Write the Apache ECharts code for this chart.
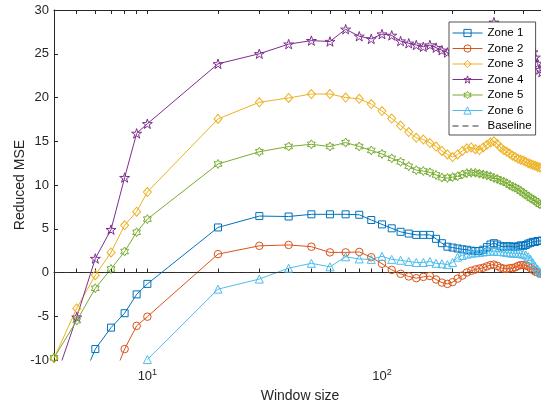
<!DOCTYPE html>
<html><head><meta charset="utf-8">
<script src="https://cdn.jsdelivr.net/npm/echarts@6/dist/echarts.min.js"></script>
<style>html,body{margin:0;padding:0;background:#fff}#c{width:541px;height:410px}</style>
</head><body><div id="c"></div>
<script>
// ---- data ----
const windowSizes = [4,5,6,7,8,9,10,20,30,40,50,60,70,80,90,100,110,120,130,140,150,160,170,180,190,200,210,220,230,240,250,260,270,280,290,300,310,320,330,340,350,360,370,380,390,400,410,420,430,440,450,460,470,480];
const zone1 = [null,-13.8,-8.75,-6.3,-4.65,-2.5,-1.3,5.15,6.45,6.4,6.65,6.65,6.65,6.6,6.0,5.5,5.05,4.65,4.45,4.3,4.3,4.3,3.85,3.35,2.95,2.85,2.75,2.65,2.6,2.5,2.45,2.45,2.6,2.9,3.2,3.35,3.2,3.0,2.95,3.0,3.0,2.95,2.9,3.0,3.1,3.05,3.15,3.3,3.4,3.5,3.5,3.6,3.6,3.65];
const zone2 = [null,null,null,-12.6,-8.75,-6.1,-5.05,2.1,3.05,3.15,2.95,2.3,2.3,2.35,1.75,1.0,0.3,-0.15,-0.45,-0.65,-0.5,-0.4,-0.8,-1.15,-1.3,-1.1,-0.7,-0.35,0.0,0.2,0.35,0.45,0.55,0.7,0.85,0.9,0.75,0.55,0.45,0.4,0.5,0.5,0.6,0.75,0.85,0.85,0.8,0.7,0.5,0.3,0.1,0.0,-0.1,-0.15];
const zone3 = [-9.8,-4.1,-0.3,2.3,5.4,6.95,9.2,17.55,19.45,19.95,20.4,20.4,20.0,19.85,19.25,18.45,17.6,16.8,16.05,15.4,15.2,14.8,14.4,13.9,13.5,13.2,13.5,13.9,14.2,14.3,14.1,14.0,14.3,14.6,14.85,15.0,14.7,14.3,14.0,13.8,13.6,13.35,13.2,13.0,12.9,12.8,12.65,12.5,12.4,12.3,12.2,12.1,12.0,11.95];
const zone4 = [-12.7,-5.1,1.6,4.9,10.85,15.9,17.0,23.85,25.0,26.1,26.5,26.4,27.8,27.0,26.7,27.25,27.1,26.45,26.2,26.0,25.8,26.0,25.7,25.4,25.15,24.9,24.7,24.6,24.5,24.6,24.9,25.4,26.0,26.8,27.7,28.6,27.9,27.3,26.9,26.6,26.4,26.2,26.0,25.9,25.8,25.7,25.6,25.5,25.4,25.2,24.6,23.9,23.2,22.9];
const zone5 = [-9.75,-5.5,-1.8,0.4,2.4,4.6,6.1,12.4,13.8,14.4,14.65,14.4,14.85,14.4,13.95,13.55,13.05,12.65,12.15,11.7,11.6,11.45,11.15,10.85,10.8,10.9,11.0,11.2,11.35,11.4,11.4,11.3,11.2,11.1,11.0,10.8,10.7,10.5,10.4,10.2,10.0,9.8,9.7,9.5,9.3,9.1,8.9,8.7,8.5,8.35,8.2,8.0,7.8,7.7];
const zone6 = [null,null,null,null,null,null,-9.95,-1.9,-0.75,0.5,1.05,0.65,1.8,1.55,1.5,1.85,1.5,1.4,1.25,1.15,1.15,1.25,1.05,1.0,0.9,1.15,1.75,1.95,2.1,2.2,2.25,2.3,2.35,2.4,2.45,2.45,2.4,2.4,2.35,2.3,2.25,2.2,2.2,2.2,2.15,2.1,2.0,1.8,1.5,1.1,0.7,0.4,0.1,-0.1];
const baselineX = [4, 500];
const baselineY = [0, 0];
const seriesNames = ['Zone 1','Zone 2','Zone 3','Zone 4','Zone 5','Zone 6','Baseline'];
const xTickValues = [5,6,7,8,9,10,20,30,40,50,60,70,80,90,100,200,300,400];
const xLabelValues = [10,100];
const yMin = -10, yMax = 30, yStep = 5;
const xMin = 4, xMax = 500;

// ---- styles ----
function starPath(n, rIn) {
  let d = '';
  for (let k = 0; k < 2*n; k++) {
    const r = (k % 2 === 0) ? 50 : 50*rIn;
    const a = -Math.PI/2 + k*Math.PI/n;
    d += (k === 0 ? 'M' : 'L') + (50 + r*Math.cos(a)).toFixed(2) + ' ' + (50 + r*Math.sin(a)).toFixed(2) + ' ';
  }
  return 'path://' + d + 'Z';
}
const pentagram = starPath(5, 0.382);
const hexagram = starPath(6, 0.577);
const colors = ['#0072BD','#D95319','#EDB120','#7E2F8E','#77AC30','#4DBEEE'];
const symbols = ['rect','circle','diamond',pentagram,hexagram,'triangle'];
const sizes = [7,7.5,[8,9],10,9,8];
const zones = [zone1,zone2,zone3,zone4,zone5,zone6];
const axisColor = '#262626';
const font = 'Liberation Sans, Arial, Helvetica, sans-serif';

const series = zones.map((z, i) => ({
  name: seriesNames[i],
  type: 'line',
  xAxisIndex: 0, yAxisIndex: 0,
  data: windowSizes.map((w, j) => [w, z[j]]).filter(p => p[1] !== null),
  symbol: symbols[i],
  symbolSize: sizes[i],
  symbolKeepAspect: true,
  showAllSymbol: true,
  clip: true,
  lineStyle: { color: colors[i], width: 1 },
  itemStyle: { color: 'rgba(255,255,255,0)', borderColor: colors[i], borderWidth: 1 },
  emphasis: { disabled: true },
  animation: false
}));
series.push({
  name: seriesNames[6],
  type: 'line',
  data: baselineX.map((x, j) => [x, baselineY[j]]),
  symbol: 'circle',
  showSymbol: false,
  lineStyle: { color: '#333', width: 1.2, type: [6, 4] },
  itemStyle: { color: 'rgba(0,0,0,0)', borderColor: 'rgba(0,0,0,0)', borderWidth: 0 },
  emphasis: { disabled: true },
  animation: false
});

const xAxisCommon = {
  type: 'log', logBase: 10, min: xMin, max: xMax,
  axisLine: { show: true, lineStyle: { color: axisColor, width: 1 } },
  axisTick: { show: true, inside: true, length: 4, customValues: xTickValues, lineStyle: { color: axisColor, width: 1 } },
  splitLine: { show: false },
  minorTick: { show: false }
};

const option = {
  backgroundColor: '#fff',
  animation: false,
  textStyle: { fontFamily: font },
  grid: { left: 54, top: 10, width: 492, height: 350, containLabel: false, outerBoundsMode: 'none' },
  xAxis: [
    Object.assign({}, xAxisCommon, {
      position: 'bottom',
      name: 'Window size', nameLocation: 'middle', nameGap: 29, nameMoveOverlap: false,
      nameTextStyle: { fontSize: 14, color: axisColor, fontFamily: font },
      axisLabel: {
        show: true, customValues: xLabelValues, margin: 8, color: axisColor,
        formatter: v => '{b|10}{s|' + Math.round(Math.log10(v)) + '}',
        rich: { b: { fontSize: 13, fontFamily: font, color: axisColor }, s: { fontSize: 9, fontFamily: font, color: axisColor, padding: [0, 0, 8, 0] } }
      }
    }),
    Object.assign({}, xAxisCommon, { position: 'top', axisLabel: { show: false } })
  ],
  yAxis: {
    type: 'value', min: yMin, max: yMax, interval: yStep,
    name: 'Reduced MSE', nameLocation: 'middle', nameGap: 27, nameMoveOverlap: false,
    nameTextStyle: { fontSize: 14, color: axisColor, fontFamily: font },
    axisLine: { show: true, lineStyle: { color: axisColor, width: 1 } },
    axisTick: { show: true, inside: true, length: 4, lineStyle: { color: axisColor, width: 1 } },
    axisLabel: { fontSize: 13, color: axisColor, margin: 5, fontFamily: font },
    splitLine: { show: false }
  },
  legend: {
    data: seriesNames,
    orient: 'vertical',
    left: 449, top: 22,
    itemWidth: 30, itemHeight: 9, itemGap: 3.5,
    padding: [5, 4, 3, 3],
    backgroundColor: '#fff',
    borderColor: axisColor, borderWidth: 0.8,
    lineStyle: { width: 1 },
    itemStyle: { borderWidth: 1 },
    textStyle: { fontSize: 11.5, color: '#000', fontFamily: font },
    selectedMode: false
  },
  series: series
};
const chart = echarts.init(document.getElementById('c'), null, { renderer: 'canvas' });
chart.setOption(option);
</script>
</body></html>
